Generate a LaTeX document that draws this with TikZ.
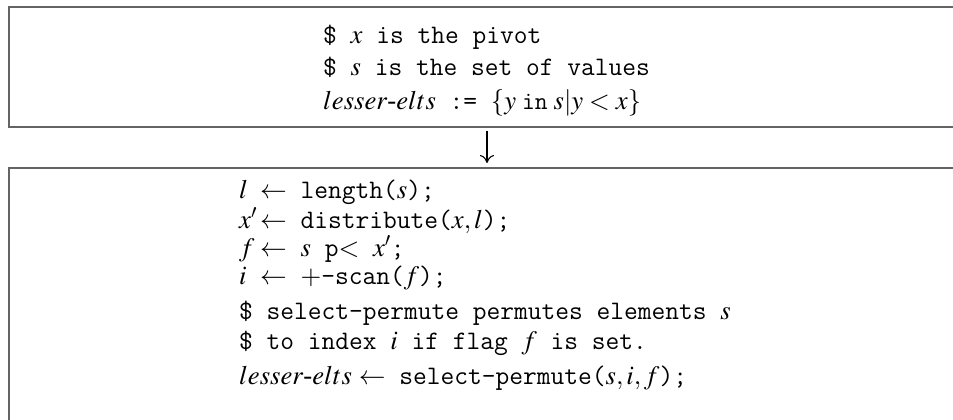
\documentclass[tikz,border=0pt]{standalone}
\usepackage{mathptmx}
\usepackage{fontspec}
\setmainfont{Liberation Serif}
\usetikzlibrary{arrows.meta}
\definecolor{boxgray}{RGB}{100,100,100}
\newcommand\lhsbox[1]{\makebox[21pt][l]{$#1$}}
\newcommand\lesserelts{$lesser\mbox{\itshape -}elts$}
\begin{document}
\begin{tikzpicture}[x=1pt,y=-1pt,
  code/.style={anchor=base west, inner sep=0pt, font=\fontsize{26.7}{31}\selectfont},
  codebox/.style={draw=boxgray, line width=1.6pt, anchor=north west, inner sep=0pt},
  arr/.style={line width=1.1pt, -{To[length=8pt,width=14pt]}}]
\useasboundingbox (0,0) rectangle (953,420);
\clip (0,0) rectangle (953,420);
\node[codebox, minimum width=980pt, minimum height=119.5pt] (topbox) at (8,6.5) {};
\node[codebox, minimum width=980pt, minimum height=300pt] (botbox) at (8,167) {};
\coordinate (arrx) at (487,0);
\draw[arr, shorten <=3pt, shorten >=4pt] (topbox.south -| arrx) -- (botbox.north -| arrx);
% top box text
\node[code] (t1) at (323,44) {\texttt{\$ }$x$\texttt{ is the pivot}};
\node[code] (t2) at (323,76) {\texttt{\$ }$s$\texttt{ is the set of values}};
\node[code] (t3) at (323,109) {\lesserelts\texttt{ := }$\{y\;\mathtt{in}\;s|y<x\}$};
% bottom box text
\node[code] (b1) at (239,198) {\lhsbox{l}$\leftarrow$\texttt{ length(}$s$\texttt{);}};
\node[code] (b2) at (239,228) {\lhsbox{x'}$\leftarrow$\texttt{ distribute(}$x,l$\texttt{);}};
\node[code] (b3) at (239,256) {\lhsbox{f}$\leftarrow$\texttt{ }$s$\texttt{ p}$<$\texttt{ }$x'$\texttt{;}};
\node[code] (b4) at (239,284) {\lhsbox{i}$\leftarrow$\texttt{ }$+$\texttt{-scan(}$f$\texttt{);}};
\node[code] (b5) at (239,319) {\texttt{\$ select-permute permutes elements }$s$};
\node[code] (b6) at (239,349) {\texttt{\$ to index }$i$\texttt{ if flag }$f$\texttt{ is set.}};
\node[code] (b7) at (239,384) {\lesserelts\hspace{7pt}$\leftarrow$\texttt{ select-permute(}$s,i,f$\texttt{);}};
\end{tikzpicture}
\end{document}
